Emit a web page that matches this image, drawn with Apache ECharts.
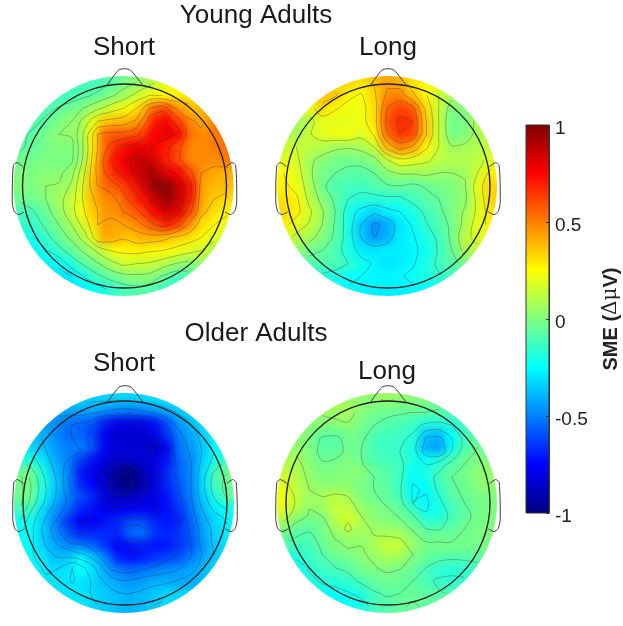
<!DOCTYPE html>
<html>
<head>
<meta charset="utf-8">
<style>
  html, body { margin: 0; background: #fff; }
  #clip, #heat, #chart { position: absolute; left: 0; top: 0; width: 623px; height: 626px; }
  #heat { filter: blur(4.5px); }
</style>
<script src="https://cdn.jsdelivr.net/npm/echarts@6/dist/echarts.min.js"></script>
</head>
<body>
<div id="clip"><div id="heat"></div></div>
<div id="chart"></div>
<script>
// values, top row first, left to right (uV)
var youngShort = [
[-.15,-.15,-.15,-.15,-.13,-.12,-.1,-.05,0,.05,.12,.2,.25,.3,.3,.3,.3],
[-.15,-.15,-.14,-.12,-.1,-.07,-.03,.03,.1,.18,.25,.25,.27,.3,.33,.35,.35],
[-.12,-.1,-.08,-.04,0,.06,.13,.2,.25,.35,.55,.62,.45,.38,.38,.42,.45],
[-.1,-.08,-.03,.03,.05,.2,.35,.38,.4,.47,.7,.75,.62,.47,.43,.5,.55],
[-.08,-.03,.02,.05,.06,.28,.55,.58,.58,.62,.75,.8,.75,.52,.47,.52,.55],
[-.06,-.03,.01,0,.02,.28,.55,.68,.78,.8,.76,.7,.6,.48,.48,.5,.55],
[-.03,-.01,-.01,-.02,.03,.3,.58,.75,.82,.87,.82,.7,.6,.48,.48,.48,.52],
[0,.01,.02,.02,.12,.35,.58,.7,.78,.88,.92,.8,.75,.6,.45,.42,.4],
[0,.03,.05,.06,.17,.38,.55,.6,.68,.8,.95,.98,.85,.72,.42,.38,.38],
[-.03,0,.05,.12,.2,.38,.48,.5,.62,.72,.85,.95,.85,.7,.4,.35,.32],
[-.12,-.06,.02,.1,.22,.35,.45,.48,.55,.62,.75,.85,.8,.6,.38,.3,.27],
[-.15,-.1,-.03,.05,.15,.3,.45,.42,.45,.5,.6,.7,.62,.45,.3,.25,.2],
[-.22,-.16,-.08,0,.07,.2,.42,.4,.36,.4,.4,.38,.33,.3,.25,.18,.13],
[-.25,-.22,-.16,-.08,-.01,.07,.17,.25,.27,.28,.26,.25,.22,.18,.15,.08,.05],
[-.28,-.27,-.25,-.22,-.1,-.03,.04,.12,.17,.15,.14,.1,.05,.02,.05,.03,0],
[-.3,-.3,-.3,-.3,-.25,-.14,-.07,-.02,.02,.03,.02,-.06,-.12,-.1,-.05,-.05,-.05],
[-.3,-.3,-.3,-.3,-.28,-.25,-.2,-.13,-.1,-.08,-.1,-.14,-.18,-.18,-.15,-.1,-.1]
];
var youngLong = [
[.3,.3,.3,.3,.32,.34,.3,.36,.43,.4,.3,.26,.22,.15,.1,.08,.08],
[.22,.22,.27,.38,.36,.27,.24,.33,.47,.5,.37,.26,.15,.08,.06,.08,.1],
[.15,.13,.2,.33,.26,.22,.22,.3,.55,.62,.58,.32,.15,0,.02,.08,.12],
[.08,.06,.12,.2,.2,.2,.22,.3,.58,.67,.65,.36,.15,-.03,-.02,.08,.1],
[.1,.08,.14,.2,.22,.23,.18,.26,.54,.65,.62,.36,.15,-.02,0,.08,.13],
[.15,.15,.13,.1,.07,.06,.08,.15,.38,.5,.43,.27,.15,.06,.07,.1,.15],
[.2,.17,.07,.02,-.02,-.03,-.02,.02,.14,.22,.2,.17,.12,.1,.1,.12,.18],
[.25,.2,.07,-.02,-.05,-.07,-.08,-.05,.02,.06,.06,.07,.05,.05,.06,.15,.28],
[.27,.22,.1,-.03,-.1,-.11,-.13,-.09,-.06,-.05,-.07,-.04,-.02,0,.04,.2,.33],
[.3,.27,.12,.02,-.07,-.15,-.17,-.18,-.17,-.17,-.12,-.08,-.05,-.01,.03,.18,.33],
[.33,.28,.17,.06,-.05,-.2,-.28,-.33,-.28,-.25,-.2,-.13,-.07,-.01,.06,.17,.3],
[.28,.2,.14,.05,-.06,-.2,-.35,-.47,-.42,-.3,-.24,-.16,-.1,-.03,.08,.2,.28],
[.2,.12,.08,.01,-.07,-.2,-.35,-.45,-.4,-.28,-.26,-.2,-.13,-.03,.12,.18,.2],
[.1,.03,-.03,-.05,-.1,-.2,-.28,-.3,-.28,-.28,-.27,-.22,-.14,-.05,.08,.12,.12],
[0,-.04,-.08,-.09,-.1,-.15,-.22,-.26,-.3,-.28,-.26,-.2,-.13,-.08,-.02,0,0],
[-.1,-.12,-.15,-.17,-.2,-.23,-.25,-.26,-.27,-.26,-.23,-.2,-.16,-.13,-.1,-.08,-.08],
[-.2,-.2,-.22,-.23,-.25,-.26,-.27,-.28,-.28,-.28,-.27,-.25,-.22,-.2,-.16,-.13,-.12]
];
var olderShort = [
[-.3,-.3,-.3,-.3,-.32,-.33,-.33,-.33,-.33,-.32,-.3,-.28,-.25,-.22,-.2,-.2,-.2],
[-.38,-.38,-.4,-.42,-.42,-.42,-.45,-.48,-.5,-.48,-.45,-.4,-.35,-.3,-.27,-.22,-.2],
[-.4,-.42,-.48,-.52,-.55,-.58,-.7,-.78,-.78,-.78,-.72,-.6,-.45,-.37,-.3,-.27,-.25],
[-.38,-.4,-.48,-.55,-.55,-.62,-.78,-.85,-.85,-.85,-.8,-.65,-.5,-.42,-.33,-.27,-.22],
[-.32,-.38,-.45,-.5,-.5,-.58,-.78,-.82,-.83,-.82,-.88,-.78,-.52,-.45,-.35,-.25,-.2],
[-.2,-.3,-.42,-.5,-.62,-.72,-.82,-.85,-.85,-.82,-.8,-.72,-.55,-.48,-.33,-.2,-.12],
[-.03,-.2,-.38,-.48,-.7,-.8,-.85,-.95,-1,-.9,-.82,-.68,-.55,-.48,-.3,-.1,-.03],
[-.02,-.18,-.35,-.48,-.68,-.75,-.87,-.97,-1,-.92,-.82,-.68,-.58,-.48,-.3,-.1,-.02],
[-.03,-.22,-.38,-.5,-.6,-.68,-.82,-.87,-.88,-.85,-.8,-.72,-.6,-.5,-.33,-.18,-.06],
[-.12,-.32,-.45,-.55,-.68,-.72,-.8,-.8,-.78,-.78,-.78,-.72,-.65,-.52,-.38,-.28,-.22],
[-.22,-.35,-.5,-.65,-.78,-.78,-.72,-.68,-.62,-.6,-.68,-.72,-.68,-.55,-.42,-.32,-.27],
[-.25,-.35,-.47,-.58,-.68,-.68,-.67,-.68,-.55,-.52,-.65,-.68,-.65,-.57,-.42,-.33,-.28],
[-.25,-.35,-.42,-.48,-.5,-.55,-.65,-.75,-.72,-.7,-.72,-.7,-.65,-.58,-.45,-.35,-.3],
[-.25,-.3,-.38,-.35,-.25,-.35,-.48,-.68,-.72,-.7,-.65,-.62,-.58,-.5,-.42,-.35,-.3],
[-.28,-.28,-.32,-.3,-.24,-.3,-.42,-.5,-.55,-.52,-.5,-.47,-.45,-.42,-.38,-.32,-.3],
[-.3,-.3,-.3,-.3,-.3,-.33,-.38,-.42,-.45,-.44,-.4,-.4,-.42,-.42,-.38,-.32,-.3],
[-.3,-.3,-.3,-.3,-.3,-.32,-.35,-.38,-.4,-.38,-.35,-.32,-.32,-.32,-.3,-.3,-.3]
];
var olderLong = [
[.07,.07,.07,.07,.08,.05,.03,.04,.06,.04,.02,0,-.02,-.05,-.07,-.08,-.08],
[.05,.05,.06,.06,.07,.08,.02,-.02,-.03,-.04,-.05,-.05,-.06,-.08,-.1,-.1,-.1],
[.03,.03,.03,.02,.03,.04,-.01,-.05,-.08,-.1,-.12,-.17,-.18,-.15,-.12,-.1,-.08],
[.03,.02,0,-.06,-.07,-.02,-.03,-.1,-.12,-.13,-.17,-.36,-.38,-.25,-.12,-.07,-.05],
[.05,.04,0,-.08,-.08,-.03,-.05,-.12,-.14,-.15,-.2,-.4,-.45,-.25,-.1,-.04,-.02],
[.1,.07,.02,-.04,-.03,0,-.04,-.1,-.12,-.13,-.2,-.25,-.2,-.12,-.05,0,0],
[.14,.1,.03,-.01,0,.02,.02,-.05,-.08,-.13,-.24,-.2,-.12,-.05,-.02,.02,.04],
[.2,.12,.05,.02,.02,.02,-.02,-.05,-.07,-.14,-.26,-.24,-.13,-.06,-.04,.02,.04],
[.22,.14,.06,.08,.12,.08,0,-.03,-.06,-.12,-.25,-.27,-.18,-.08,-.05,-.02,0],
[.2,.1,.04,.05,.14,.13,.05,0,-.02,-.06,-.14,-.24,-.22,-.12,-.07,-.03,0],
[.08,0,-.04,-.02,.1,.17,.1,.03,.01,-.01,-.06,-.15,-.16,-.11,-.05,-.02,0],
[-.02,-.08,-.08,-.03,.04,.07,.06,.07,.08,.07,0,-.05,-.05,-.05,-.03,-.01,0],
[-.08,-.12,-.12,-.05,0,.03,.03,.08,.14,.15,.05,-.02,-.02,-.02,-.02,-.02,-.01],
[-.18,-.2,-.14,-.1,-.05,-.03,.02,.04,.08,.06,0,-.05,-.08,-.1,-.09,-.07,-.05],
[-.22,-.24,-.17,-.14,-.12,-.08,-.03,-.01,0,-.02,-.05,-.12,-.17,-.18,-.17,-.12,-.08],
[-.25,-.25,-.2,-.18,-.18,-.16,-.12,-.06,-.04,-.05,-.07,-.1,-.14,-.16,-.13,-.1,-.08],
[-.25,-.25,-.25,-.25,-.25,-.23,-.2,-.12,-.08,-.06,-.04,-.06,-.07,-.08,-.08,-.08,-.08]
];
var tickValues = [-1, -0.5, 0, 0.5, 1];
var contourLevels = [-.95,-.85,-.75,-.65,-.55,-.45,-.35,-.25,-.15,-.05,.05,.15,.25,.35,.45,.55,.65,.75,.85,.95];
var jetColors = ['#00007f','#0000ff','#007fff','#00ffff','#7fff7f','#ffff00','#ff7f00','#ff0000','#7f0000'];

// head outline, in units of the black circle's radius
var nose = [[-.17,-.99],[-.06,-1.135],[0,-1.15],[.06,-1.135],[.18,-.985]];
var earLeft = [[-.997,-.19],[-1.055,-.23],[-1.09,-.2],[-1.1,.16],[-1.08,.25],[-1.04,.28],[-.985,.255]];
var earRight = earLeft.map(function (p) { return [-p[0], p[1]]; });

var maps = [
  {values: youngShort, cx: 123.5, cy: 186},
  {values: youngLong, cx: 387, cy: 186},
  {values: olderShort, cx: 124, cy: 503},
  {values: olderLong, cx: 387, cy: 503}
];
var R = 110, headR = 102 / 110, N = 17;
// two extra cells each side repeat the nearest edge value, so the blur has no white to pull in
var PAD = 2, cellSize = 2 * R / N, cellArea = cellSize * (N + 2 * PAD);

// clip the blurred heat layer to the four discs
var clipPath = maps.map(function (m) {
  return 'M' + (m.cx - R) + ' ' + m.cy + 'a' + R + ' ' + R + ' 0 1 0 ' + 2 * R + ' 0a' + R + ' ' + R + ' 0 1 0 ' + -2 * R + ' 0Z';
}).join(' ');
document.getElementById('clip').style.clipPath = 'path("' + clipPath + '")';

var idx = [];
for (var k = 0; k < N + 2 * PAD; k++) idx.push(String(k));

function clampIndex(i) { return Math.max(0, Math.min(N - 1, i)); }

var heatOption = {
  animation: false,
  grid: maps.map(function (m) {
    return {left: m.cx - cellArea / 2, top: m.cy - cellArea / 2, width: cellArea, height: cellArea};
  }),
  xAxis: maps.map(function (m, i) {
    return {type: 'category', data: idx, gridIndex: i, show: false};
  }),
  yAxis: maps.map(function (m, i) {
    return {type: 'category', data: idx, gridIndex: i, show: false, inverse: true};
  }),
  visualMap: {show: false, min: -1, max: 1, calculable: false, seriesIndex: [0, 1, 2, 3], inRange: {color: jetColors}},
  series: maps.map(function (m, i) {
    var data = [];
    idx.forEach(function (ky, y) {
      idx.forEach(function (kx, x) {
        data.push([x, y, m.values[clampIndex(y - PAD)][clampIndex(x - PAD)]]);
      });
    });
    return {type: 'heatmap', xAxisIndex: i, yAxisIndex: i, data: data, progressive: 0, silent: true};
  })
};
echarts.init(document.getElementById('heat')).setOption(heatOption);

function toUnit(i) {
  return (i + .5) / N * 2 - 1;
}

// marching squares over the read grid, chained into polylines
function contourLines(rows, level) {
  var nodes = {};
  function edge(id, x, y) {
    if (!nodes[id]) nodes[id] = {id: id, p: [x, y], links: []};
    return nodes[id];
  }
  function cross(a, b) { return (a < level) !== (b < level); }
  function h(i, j) {
    var t = (level - rows[j][i]) / (rows[j][i + 1] - rows[j][i]);
    return edge('h' + i + '_' + j, toUnit(i + t), toUnit(j));
  }
  function v(i, j) {
    var t = (level - rows[j][i]) / (rows[j + 1][i] - rows[j][i]);
    return edge('v' + i + '_' + j, toUnit(i), toUnit(j + t));
  }
  function link(a, b) {
    var inside = function (n) { return n.p[0] * n.p[0] + n.p[1] * n.p[1] < .985; };
    if (inside(a) && inside(b)) { a.links.push(b); b.links.push(a); }
  }
  for (var j = 0; j < N - 1; j++) {
    for (var i = 0; i < N - 1; i++) {
      var a = rows[j][i], b = rows[j][i + 1], c = rows[j + 1][i + 1], d = rows[j + 1][i];
      var found = [];
      if (cross(a, b)) found.push(h(i, j));
      if (cross(b, c)) found.push(v(i + 1, j));
      if (cross(d, c)) found.push(h(i, j + 1));
      if (cross(a, d)) found.push(v(i, j));
      if (found.length === 2) link(found[0], found[1]);
      if (found.length === 4) { link(found[0], found[3]); link(found[1], found[2]); }
    }
  }
  var lines = [], seen = {};
  function walk(start) {
    var line = [start.p], cur = start;
    seen[cur.id] = true;
    while (true) {
      var next = cur.links.filter(function (n) { return !seen[n.id]; })[0];
      if (!next) break;
      seen[next.id] = true;
      line.push(next.p);
      cur = next;
    }
    if (cur !== start && cur.links.indexOf(start) >= 0) line.push(start.p);
    if (line.length > 2) lines.push(line);
  }
  var all = Object.keys(nodes).map(function (key) { return nodes[key]; });
  all.forEach(function (n) { if (!seen[n.id] && n.links.length === 1) walk(n); });
  all.forEach(function (n) { if (!seen[n.id] && n.links.length) walk(n); });
  return lines;
}

function scaled(p) { return [p[0] * headR + .009, p[1] * headR]; }

var series = [], grids = [], xAxes = [], yAxes = [];
maps.forEach(function (m, i) {
  grids.push({left: m.cx - R, top: m.cy - R, width: 2 * R, height: 2 * R});
  xAxes.push({type: 'value', gridIndex: i, min: -1, max: 1, show: false});
  yAxes.push({type: 'value', gridIndex: i, min: -1, max: 1, show: false, inverse: true});

  var lines = [];
  contourLevels.forEach(function (level) {
    lines = lines.concat(contourLines(m.values, level));
  });
  series.push({
    type: 'custom', xAxisIndex: i, yAxisIndex: i, silent: true,
    data: lines.map(function (l, n) { return [n]; }),
    encode: {x: 0, y: 0},
    renderItem: function (params, api) {
      return {
        type: 'polyline',
        shape: {points: lines[params.dataIndex].map(function (p) { return api.coord(p); }), smooth: .3},
        style: {fill: null, stroke: 'rgba(50,50,50,0.42)', lineWidth: .8}
      };
    }
  });
  series.push({
    type: 'custom', xAxisIndex: i, yAxisIndex: i, silent: true, z: 5,
    data: [[0]],
    encode: {x: 0, y: 0},
    renderItem: function (params, api) {
      var c = api.coord([.009, 0]);
      var outline = {fill: null, stroke: '#3a3a3a', lineWidth: 1};
      function part(points) {
        return {type: 'polyline', shape: {points: points.map(function (p) { return api.coord(scaled(p)); }), smooth: .25}, style: outline};
      }
      return {
        type: 'group',
        children: [
          {type: 'circle', shape: {cx: c[0], cy: c[1], r: 102}, style: {fill: null, stroke: '#222', lineWidth: 1.4}},
          part(nose), part(earLeft), part(earRight)
        ]
      };
    }
  });
});

// colorbar
grids.push({left: 526, top: 125, width: 23, height: 388});
xAxes.push({type: 'value', gridIndex: 4, min: 0, max: 1, show: false});
yAxes.push({
  type: 'value', gridIndex: 4, min: -1, max: 1, interval: .5, position: 'right', z: 6,
  axisLine: {show: true, onZero: false, lineStyle: {color: '#333'}},
  axisTick: {show: true, inside: true, length: 3, lineStyle: {color: '#333'}},
  splitLine: {show: false},
  axisLabel: {
    color: '#222', fontSize: 19, fontFamily: 'Liberation Sans', margin: 6,
    verticalAlign: 'top', lineHeight: 7,
    customValues: tickValues,
    formatter: function (v) { return String(v); }
  },
  name: '{b|SME (}{g|\u0394\u03bc}{b|V)}',
  nameLocation: 'middle', nameRotate: 90, nameGap: 52,
  nameTextStyle: {
    rich: {
      b: {fontSize: 20, fontWeight: 'bold', fontFamily: 'Liberation Sans', color: '#222'},
      g: {fontSize: 20, fontFamily: 'DejaVu Serif', color: '#222'}
    }
  }
});
series.push({
  type: 'custom', xAxisIndex: 4, yAxisIndex: 4, silent: true,
  data: [[0, -1]],
  encode: {x: 0, y: 1},
  renderItem: function (params, api) {
    var a = api.coord([0, 1]), b = api.coord([1, -1]);
    return {
      type: 'rect',
      shape: {x: a[0], y: a[1], width: b[0] - a[0], height: b[1] - a[1]},
      style: {
        fill: new echarts.graphic.LinearGradient(0, 1, 0, 0, jetColors.map(function (c, i) {
          return {offset: i / (jetColors.length - 1), color: c};
        })),
        stroke: '#333', lineWidth: 1
      }
    };
  }
});

function label(text, x, y) {
  return {
    text: text, left: x, top: y, textAlign: 'center', textVerticalAlign: 'middle', padding: 0,
    textStyle: {fontFamily: 'Liberation Sans', fontSize: 26, fontWeight: 'normal', color: '#1a1a1a'}
  };
}

var chart = echarts.init(document.getElementById('chart'));
chart.setOption({
  animation: false,
  backgroundColor: 'transparent',
  title: [
    label('Young Adults', 256, 16),
    label('Short', 124, 48),
    label('Long', 388, 48),
    label('Older Adults', 256, 334),
    label('Short', 124, 364),
    label('Long', 387, 372)
  ],
  grid: grids,
  xAxis: xAxes,
  yAxis: yAxes,
  series: series
});
</script>
</body>
</html>
